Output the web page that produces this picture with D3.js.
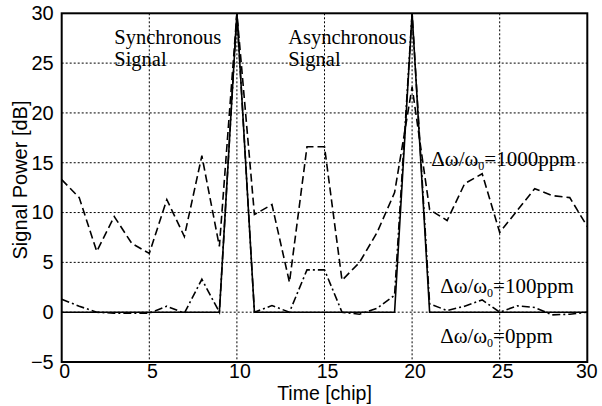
<!DOCTYPE html>
<html>
<head>
<meta charset="utf-8">
<script src="https://cdn.jsdelivr.net/npm/d3@7"></script>
<style>
  html, body { margin: 0; padding: 0; background: #fff; }
  svg { display: block; }
</style>
</head>
<body>
<script>
// Chip positions along the time axis
const chips = d3.range(0, 31);

// Signal power in dB for each frequency offset
const power0ppm = [0,0,0,0,0,0,0,0,0,0,30,0,0,0,0,0,0,0,0,0,30,0,0,0,0,0,0,0,0,0,0];
const power100ppm = [1.3,0.6,0,-0.1,-0.1,-0.1,0.6,-0.1,3.3,0,30,0,0.66,0,4.25,4.25,0,-0.2,0.4,1.7,30,0.83,0.17,0.6,1.23,0,0.63,0.47,-0.27,-0.2,0];
const power1000ppm = [13.3,11.5,6.1,9.6,6.9,5.9,11.3,7.6,15.7,6.6,30,9.8,10.8,3,16.6,16.6,3.2,5,8,12,22.6,10.3,9.2,12.9,13.9,8,10.2,12.4,11.7,11.5,8.6];

// Axis ticks
const xTicks = [0, 5, 10, 15, 20, 25, 30];
const yTicks = [-5, 0, 5, 10, 15, 20, 25, 30];

// Annotation text
const eventLabels = [
  { lines: ["Synchronous", "Signal"], x: 3, y: 26.9 },
  { lines: ["Asynchronous", "Signal"], x: 12.93, y: 26.9 }
];
const offsetLabels = [
  { value: "1000ppm", x: 21.1, y: 14.7 },
  { value: "100ppm", x: 21.6, y: 1.9 },
  { value: "0ppm", x: 21.6, y: -3.1 }
];

const W = 602, H = 406;
const plotLeft = 61.7, plotRight = 587.3, plotTop = 13.3, plotBottom = 362;

const x = d3.scaleLinear().domain([0, 30]).range([plotLeft, plotRight]);
const y = d3.scaleLinear().domain([-5, 30]).range([plotBottom, plotTop]);

const svg = d3.select("body").append("svg")
  .attr("width", W).attr("height", H);

const sans = "'Liberation Sans', Arial, Helvetica, sans-serif";
const serif = "'Liberation Serif', 'Times New Roman', serif";

// Dotted grid
const grid = svg.append("g").attr("stroke", "#000").attr("stroke-width", 1)
  .attr("stroke-dasharray", "2,2").attr("fill", "none");
grid.selectAll("line.gx").data(xTicks.filter(t => t > 0 && t < 30)).join("line")
  .attr("x1", d => x(d)).attr("x2", d => x(d))
  .attr("y1", plotTop).attr("y2", plotBottom);
grid.selectAll("line.gy").data(yTicks.filter(t => t > -5 && t < 30)).join("line")
  .attr("x1", plotLeft).attr("x2", plotRight)
  .attr("y1", d => y(d)).attr("y2", d => y(d));

// Series lines
const line = d3.line().x((d, i) => x(chips[i])).y(d => y(d));
const series = [
  { data: power1000ppm, dash: "8,4" },
  { data: power100ppm, dash: "8,3,2,3" },
  { data: power0ppm, dash: null }
];
svg.append("g").selectAll("path").data(series).join("path")
  .attr("d", d => line(d.data))
  .attr("fill", "none").attr("stroke", "#000").attr("stroke-width", 1.6)
  .attr("stroke-linejoin", "miter")
  .attr("stroke-dasharray", d => d.dash);

// Frame
svg.append("rect").attr("x", plotLeft).attr("y", plotTop)
  .attr("width", plotRight - plotLeft).attr("height", plotBottom - plotTop)
  .attr("fill", "none").attr("stroke", "#000").attr("stroke-width", 2);

// Axes
const xAxis = svg.append("g").attr("transform", `translate(0,${plotBottom})`)
  .call(d3.axisBottom(x).tickValues(xTicks).tickSize(0).tickPadding(2));
xAxis.select(".domain").remove();
xAxis.selectAll("text").attr("font-family", sans).attr("font-size", 19.5)
  .attr("fill", "#000").attr("dx", d => d === 30 ? -1 : 2.5).attr("dy", "0.7em");

const yAxis = svg.append("g").attr("transform", `translate(${plotLeft},0)`)
  .call(d3.axisLeft(y).tickValues(yTicks).tickSize(0).tickPadding(8));
yAxis.select(".domain").remove();
yAxis.selectAll("text").attr("font-family", sans).attr("font-size", 20)
  .attr("fill", "#000");

// Axis titles
svg.append("text").attr("x", 324.5).attr("y", 399.5)
  .attr("text-anchor", "middle").attr("font-family", sans).attr("font-size", 19.5)
  .text("Time [chip]");
svg.append("text").attr("transform", "translate(26.5,180) rotate(-90)")
  .attr("text-anchor", "middle").attr("font-family", sans).attr("font-size", 20)
  .text("Signal Power [dB]");

// Event annotations
eventLabels.forEach(lbl => {
  const t = svg.append("text").attr("font-family", serif).attr("font-size", 20.5)
    .attr("x", x(lbl.x)).attr("y", y(lbl.y));
  lbl.lines.forEach((s, i) => {
    t.append("tspan").attr("x", x(lbl.x)).attr("dy", i === 0 ? 0 : 22).text(s);
  });
});

// Frequency offset annotations
offsetLabels.forEach(lbl => {
  const t = svg.append("text").attr("font-family", serif).attr("font-size", 21)
    .attr("x", x(lbl.x)).attr("y", y(lbl.y));
  t.append("tspan").text("\u0394\u03c9/\u03c9");
  t.append("tspan").attr("font-size", 12).attr("dy", 4).text("0");
  t.append("tspan").attr("dy", -4).text("=" + lbl.value);
});
</script>
</body>
</html>
